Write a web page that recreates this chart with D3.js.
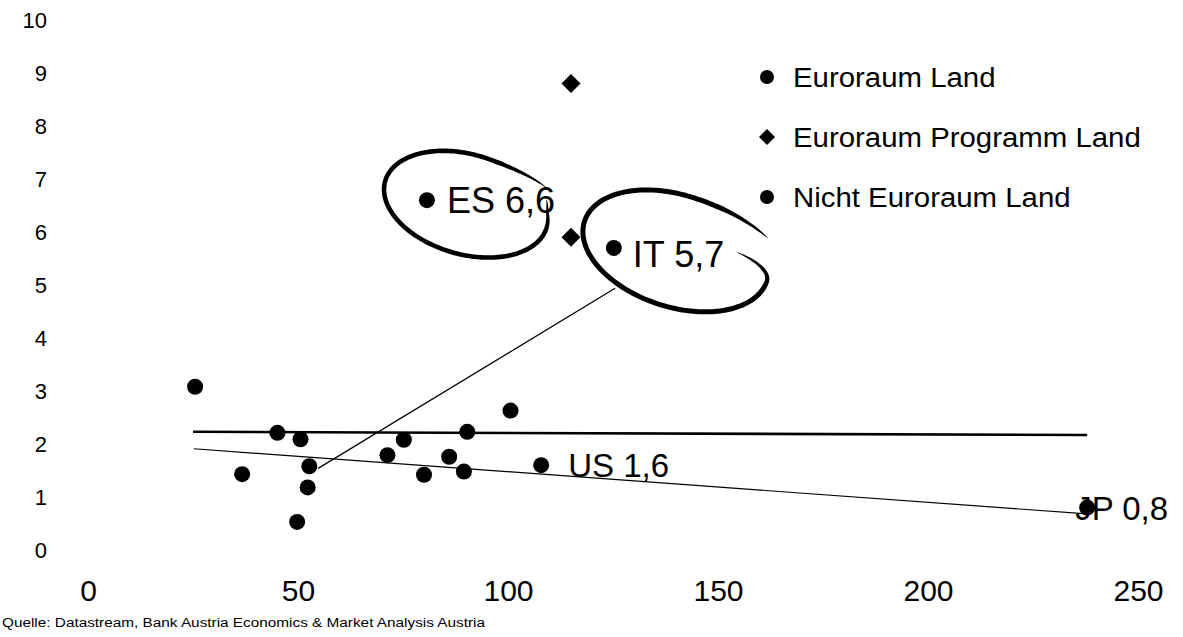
<!DOCTYPE html>
<html>
<head>
<meta charset="utf-8">
<script src="https://cdn.jsdelivr.net/npm/d3@7"></script>
<style>
  html, body { margin: 0; padding: 0; background: #fff; }
  svg { display: block; font-family: "Liberation Sans", Arial, Helvetica, sans-serif; }
</style>
</head>
<body>
<svg id="chart" width="1183" height="637"></svg>
<script>
// ---- data -------------------------------------------------------------
// Euroraum Land
const euroX    = [80.7, 125.2, 25.5, 45.1, 50.6, 52.7, 52.3, 49.8, 75.2, 71.3, 90.3, 100.6];
const euroY    = [6.6,  5.7,   3.08, 2.21, 2.09, 1.58, 1.18, 0.53, 2.08, 1.79, 2.23, 2.63];
const euroCode = ["ES", "IT",  null, null, null, null, null, null, null, null, null, null];

// Euroraum Programm Land
const progX = [115.0, 115.0];
const progY = [8.8,   5.9];

// Nicht Euroraum Land
const otherX    = [107.9, 237.9, 36.7, 80.0, 86.0, 89.5];
const otherY    = [1.6,   0.8,   1.43, 1.42, 1.76, 1.48];
const otherCode = ["US",  "JP",  null, null, null, null];

// trend lines and connector (data units)
const euroTrendX = [25.0, 237.9];
const euroTrendY = [2.23, 2.17];
const allTrendX  = [25.2, 237.9];
const allTrendY  = [1.91, 0.68];
const linkX      = [54.8, 125.5];
const linkY      = [1.54, 4.94];

// axis ticks
const xTicks = [0, 50, 100, 150, 200, 250];
const yTicks = [0, 1, 2, 3, 4, 5, 6, 7, 8, 9, 10];

// legend entries
const legendNames  = ["Euroraum Land", "Euroraum Programm Land", "Nicht Euroraum Land"];
const legendShapes = ["circle", "diamond", "circle"];

// ---- layout ------------------------------------------------------------
const svg = d3.select("#chart");
const x = d3.scaleLinear().domain([0, 250]).range([88, 1138]);
const y = d3.scaleLinear().domain([0, 10]).range([550, 20]);

const ink = "#000";
const dotR = 8;
const diamondR = 9.5;

// label placement per country code: horizontal offset, vertical offset, font size
const labelStyle = {
  ES: { dx: 20, dy: 0, fs: 36 },
  IT: { dx: 19, dy: 6, fs: 36 },
  US: { dx: 27, dy: 0, fs: 33 },
  JP: { dx: -12, dy: 1, fs: 33 }
};
// hand-drawn loops around highlighted countries (offset of loop centre from point, radii in px)
const loopStyle = {
  ES: { ox: 39, oy: 4, a: 84, b: 50, rot: 16, t0: -30, t1: 318, r0: 1.05, r1: 1.15, rin: 0.05, rout: 0.12, w: 4.6 },
  IT: { ox: 62, oy: 3, a: 96, b: 56, rot: 18, t0: -27, t1: 320, r0: 0.69, r1: 1.13, rin: 0.08, rout: 0.15, w: 5 }
};

// ---- axes (labels only) -------------------------------------------------
const xAxis = d3.axisBottom(x).tickValues(xTicks).tickSize(0).tickPadding(0).tickFormat(d3.format("d"));
const gx = svg.append("g").attr("transform", "translate(0,579.5)").call(xAxis);
gx.select(".domain").remove();
gx.selectAll("text").attr("font-size", 30).attr("fill", ink)
  .attr("font-family", "'Liberation Sans', Arial, sans-serif");

const yAxis = d3.axisLeft(y).tickValues(yTicks).tickSize(0).tickPadding(0).tickFormat(d3.format("d"));
const gy = svg.append("g").attr("transform", "translate(47,0)").call(yAxis);
gy.select(".domain").remove();
gy.selectAll("text").attr("font-size", 22).attr("fill", ink)
  .attr("font-family", "'Liberation Sans', Arial, sans-serif");

// ---- lines -------------------------------------------------------------
const line = d3.line().x(d => x(d[0])).y(d => y(d[1]));
svg.append("path")
  .attr("d", line(d3.zip(euroTrendX, euroTrendY)))
  .attr("stroke", ink).attr("stroke-width", 2.6).attr("fill", "none");
svg.append("path")
  .attr("d", line(d3.zip(allTrendX, allTrendY)))
  .attr("stroke", ink).attr("stroke-width", 1.2).attr("fill", "none");
svg.append("path")
  .attr("d", line(d3.zip(linkX, linkY)))
  .attr("stroke", ink).attr("stroke-width", 1.2).attr("fill", "none");

// ---- markers -----------------------------------------------------------
const circles = d3.zip(euroX, euroY, euroCode).concat(d3.zip(otherX, otherY, otherCode));
svg.append("g").selectAll("circle")
  .data(circles).join("circle")
  .attr("cx", d => x(d[0])).attr("cy", d => y(d[1])).attr("r", dotR)
  .attr("fill", ink);

const diamond = d3.symbol().type(d3.symbolSquare).size(2 * diamondR * diamondR);
svg.append("g").selectAll("path")
  .data(d3.zip(progX, progY)).join("path")
  .attr("d", diamond)
  .attr("transform", d => `translate(${x(d[0])},${y(d[1])}) rotate(45)`)
  .attr("fill", ink);

// ---- hand-drawn loops ----------------------------------------------------
function loopPath(cx, cy, s) {
  const n = 200, pts = [];
  const cr = Math.cos(s.rot * Math.PI / 180), sr = Math.sin(s.rot * Math.PI / 180);
  for (let i = 0; i <= n; i++) {
    const u = i / n;
    const th = (s.t0 + (s.t1 - s.t0) * u) * Math.PI / 180;
    let r = 1;
    if (u < s.rin) r = s.r0 + (1 - s.r0) * d3.easeSinOut(u / s.rin);
    else if (u > 1 - s.rout) r = 1 + (s.r1 - 1) * d3.easeSinIn((u - (1 - s.rout)) / s.rout);
    const lx = s.a * r * Math.cos(th), ly = s.b * r * Math.sin(th);
    pts.push([cx + lx * cr - ly * sr, cy + lx * sr + ly * cr]);
  }
  const left = [], right = [];
  for (let i = 0; i <= n; i++) {
    const p0 = pts[Math.max(i - 1, 0)], p1 = pts[Math.min(i + 1, n)];
    const dx = p1[0] - p0[0], dy = p1[1] - p0[1];
    const len = Math.hypot(dx, dy) || 1;
    const nx = -dy / len, ny = dx / len;
    const u = i / n;
    const w = Math.max(0.6, s.w * Math.pow(Math.min(1, u / 0.1, (1 - u) / 0.1), 0.55));
    left.push([pts[i][0] + nx * w / 2, pts[i][1] + ny * w / 2]);
    right.push([pts[i][0] - nx * w / 2, pts[i][1] - ny * w / 2]);
  }
  return d3.line()(left.concat(right.reverse())) + "Z";
}

const fmt = v => d3.format(".1f")(v).replace(".", ",");
const labelled = circles.filter(d => d[2]);

svg.append("g").selectAll("path")
  .data(labelled.filter(d => loopStyle[d[2]])).join("path")
  .attr("d", d => {
    const s = loopStyle[d[2]];
    return loopPath(x(d[0]) + s.ox, y(d[1]) + s.oy, s);
  })
  .attr("fill", ink);

// ---- point labels --------------------------------------------------------
svg.append("g").selectAll("text")
  .data(labelled).join("text")
  .attr("x", d => x(d[0]) + labelStyle[d[2]].dx)
  .attr("y", d => y(d[1]) + labelStyle[d[2]].dy + 0.358 * labelStyle[d[2]].fs)
  .attr("font-size", d => labelStyle[d[2]].fs)
  .attr("fill", ink)
  .text(d => `${d[2]} ${fmt(d[1])}`);

// ---- legend --------------------------------------------------------------
const legendY = d3.scalePoint().domain(legendNames).range([77, 197]);
const lg = svg.append("g");
const items = lg.selectAll("g").data(d3.zip(legendNames, legendShapes)).join("g")
  .attr("transform", d => `translate(767,${legendY(d[0])})`);
items.filter(d => d[1] === "circle").append("circle").attr("r", 7).attr("fill", ink);
items.filter(d => d[1] === "diamond").append("path")
  .attr("d", d3.symbol().type(d3.symbolSquare).size(2 * 8 * 8))
  .attr("transform", "rotate(45)").attr("fill", ink);
items.append("text")
  .attr("transform", "translate(26,10) scale(1.05,1)")
  .attr("font-size", 28).attr("fill", ink)
  .text(d => d[0]);

// ---- source --------------------------------------------------------------
svg.append("text")
  .attr("x", 2).attr("y", 627)
  .attr("font-size", 12.5).attr("fill", ink)
  .attr("textLength", 483).attr("lengthAdjust", "spacingAndGlyphs")
  .text("Quelle: Datastream, Bank Austria Economics & Market Analysis Austria");
</script>
</body>
</html>
